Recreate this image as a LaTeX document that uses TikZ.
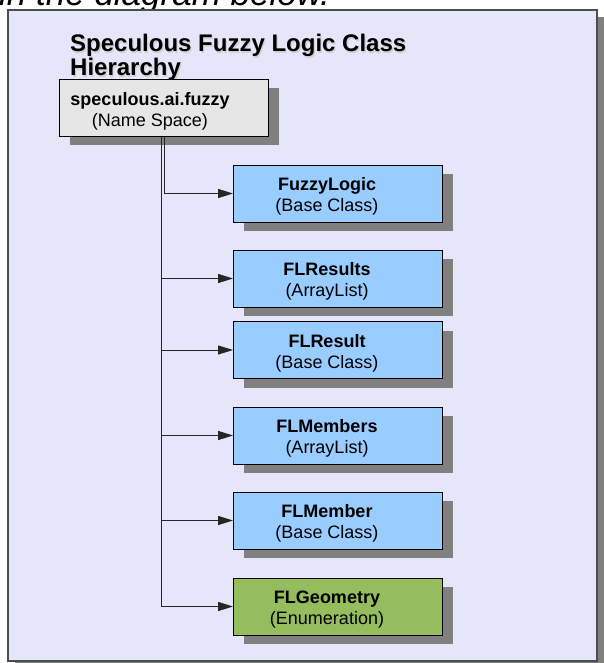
\documentclass[tikz,border=0pt]{standalone}
\usepackage{fontspec}
\setmainfont{Liberation Sans}
\usetikzlibrary{arrows.meta,shadows}

\definecolor{panelfill}{HTML}{E6E6FA}
\definecolor{panelline}{HTML}{4D4D4D}
\definecolor{shadowgray}{HTML}{808080}
\definecolor{classblue}{HTML}{99CCFF}
\definecolor{enumgreen}{HTML}{95BD5D}
\definecolor{nsgray}{HTML}{E6E6E6}

\tikzset{
  boxshadow/.style={drop shadow={shadow xshift=10pt, shadow yshift=-9pt,
      fill=shadowgray, opacity=1}},
  classbox/.style={draw=black, line width=0.9pt, fill=classblue,
      minimum width=209pt, minimum height=57pt, inner sep=0pt, boxshadow},
  enumbox/.style={classbox, fill=enumgreen},
  nsbox/.style={classbox, fill=nsgray},
  boxtext/.style={align=center, inner sep=0pt,
      font=\fontsize{18}{21}\selectfont},
  titletext/.style={anchor=base west, inner sep=0pt,
      font=\fontsize{24}{24}\selectfont\bfseries},
  conn/.style={draw=black!85, line width=1pt,
      -{Triangle[length=15pt,width=9pt]}},
}

\newcommand{\cname}[1]{\textbf{#1}}

\begin{document}
\begin{tikzpicture}[x=1pt,y=-1pt]
  \useasboundingbox (0,0) rectangle (604,663);
  \clip (0,0) rectangle (604,663);

  % line of running text above the figure
  \node[anchor=base west, inner sep=0pt,
        font=\fontsize{35}{35}\selectfont\itshape] (caption) at (-1,6)
        {in the diagram below.};

  % background panel with its shadow
  \fill[shadowgray] (15,17) rectangle (604,668);
  \draw[panelline, line width=1.2pt, fill=panelfill] (8,10) rectangle (597,661);

  % title, with a faint offset shadow
  \node[titletext, text=black!18] (titleshadow)  at (71.2,53.2) {Speculous Fuzzy Logic Class};
  \node[titletext, text=black!18] (titleshadow2) at (71.2,77.2) {Hierarchy};
  \node[titletext] (title)  at (70,52) {Speculous Fuzzy Logic Class};
  \node[titletext] (title2) at (70,76) {Hierarchy};

  % name space box
  \node[nsbox] (ns) at (164,108) {};
  \node[boxtext] (nst) at (150,111) {\cname{speculous.ai.fuzzy}\\(Name Space)};

  % class boxes
  \node[classbox] (fl)   at (338,193.5) {};
  \node[classbox] (flrs) at (338,278.5) {};
  \node[classbox] (flr)  at (338,350)   {};
  \node[classbox] (flms) at (338,435.5) {};
  \node[classbox] (flm)  at (338,520.5) {};
  \node[enumbox]  (flg)  at (338,606.5) {};

  \node[boxtext] (flt)   at (327,196.5) {\cname{FuzzyLogic}\\(Base Class)};
  \node[boxtext] (flrst) at (327,281.5) {\cname{FLResults}\\(ArrayList)};
  \node[boxtext] (flrt)  at (327,353)   {\cname{FLResult}\\(Base Class)};
  \node[boxtext] (flmst) at (327,438.5) {\cname{FLMembers}\\(ArrayList)};
  \node[boxtext] (flmt)  at (327,523.5) {\cname{FLMember}\\(Base Class)};
  \node[boxtext] (flgt)  at (327,609.5) {\cname{FLGeometry}\\(Enumeration)};

  % connectors from the name space to each class
  \coordinate (trunk) at ([xshift=-3pt]ns.south);
  \draw[conn] (ns.south) |- (fl.west);
  \draw[conn] (trunk) |- (flrs.west);
  \draw[conn] (trunk) |- (flr.west);
  \draw[conn] (trunk) |- (flms.west);
  \draw[conn] (trunk) |- (flm.west);
  \draw[conn] (trunk) |- (flg.west);
\end{tikzpicture}
\end{document}
